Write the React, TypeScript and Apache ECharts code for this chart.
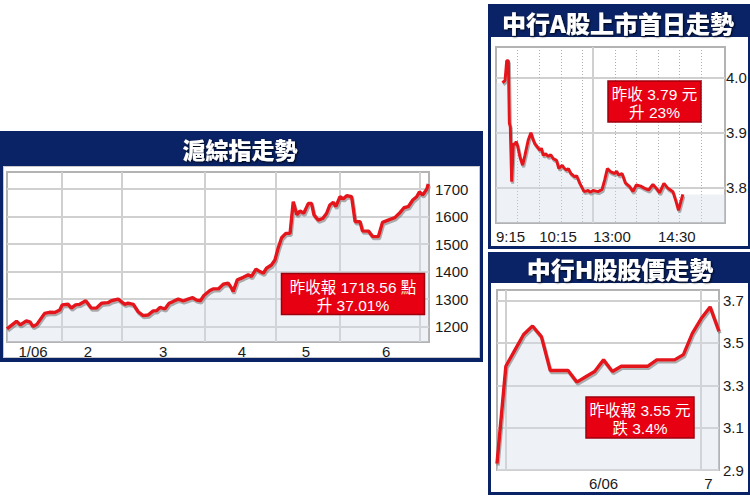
import React, { useEffect, useRef } from "react";
import * as echarts from "echarts";

// ---------- 滬綜指走勢 (Shanghai Composite, Jan–Jul 2006, trading-day index) ----------
const shPoints: [number, number][] = [
  [0, 1192], [2.7, 1219], [3.8, 1206], [5.5, 1221], [6.6, 1216], [7.4, 1200], [8.5, 1208],
  [10.7, 1248], [12.1, 1252], [13.6, 1251], [15.0, 1260], [15.7, 1279], [17.4, 1281],
  [18.3, 1267], [19.5, 1279], [20.7, 1281], [22.4, 1294], [24.0, 1267], [25.4, 1267],
  [26.9, 1285], [28.7, 1287], [29.7, 1294], [31.6, 1300], [32.5, 1291], [33.5, 1281],
  [34.4, 1285], [35.9, 1281], [37.3, 1254], [38.7, 1240], [40.1, 1242], [41.6, 1257],
  [42.5, 1257], [43.5, 1270], [44.9, 1264], [46.1, 1285], [47.2, 1291], [48.7, 1300],
  [50.1, 1293], [51.5, 1300], [52.8, 1305], [53.9, 1296], [55.0, 1294], [56.0, 1313],
  [57.7, 1331], [58.6, 1337], [60.1, 1337], [61.5, 1354], [62.9, 1358], [63.9, 1339],
  [64.3, 1327], [65.5, 1370], [67.2, 1379], [68.6, 1388], [69.5, 1382], [70.8, 1409],
  [71.9, 1400], [72.9, 1394], [73.8, 1412], [75.2, 1424], [76.2, 1442], [77.1, 1485],
  [78.1, 1523], [79.3, 1539], [80.5, 1539], [81.4, 1654], [82.4, 1606], [83.3, 1620],
  [84.4, 1612], [85.7, 1648], [86.6, 1648], [87.3, 1606], [88.5, 1587], [89.8, 1593],
  [90.9, 1612], [91.8, 1642], [92.8, 1652], [93.5, 1636], [94.7, 1672], [95.6, 1664],
  [96.6, 1676], [98.0, 1672], [99.0, 1581], [100.4, 1581], [101.1, 1547], [102.8, 1547],
  [104.0, 1527], [105.6, 1527], [106.8, 1579], [108.4, 1587], [110.3, 1596], [111.8, 1615],
  [112.9, 1632], [114.1, 1636], [115.4, 1660], [116.5, 1672], [117.3, 1690], [118.2, 1678],
  [119.4, 1700], [119.8, 1718.56],
];
const shMonthStarts = [15.5, 32.5, 56.3, 76.5, 94.7, 117.5];
const shMonthLabels = ["1/06", "2", "3", "4", "5", "6"];
const shMonthCenters = [7.4, 23, 44.4, 66.8, 85, 107.8];
const shTicks = [1200, 1300, 1400, 1500, 1600, 1700];
const shYMin = 1144;
const shYMax = 1762;
const shDayMax = 120;

// ---------- 中行A股上市首日走勢 (minutes since 9:15, lunch removed) ----------
const aPoints: [number, number][] = [
  [8.9, 3.991], [12.6, 3.995], [14.9, 4.031], [17.2, 4.031], [18.6, 3.917], [19.9, 3.911],
  [21.8, 3.811], [24.1, 3.881], [26.4, 3.878], [28.0, 3.884], [30.1, 3.876], [33.3, 3.856],
  [37.0, 3.841], [40.2, 3.859], [44.8, 3.887], [48.5, 3.900], [51.7, 3.887], [54.0, 3.880],
  [56.4, 3.876], [61.0, 3.868], [63.0, 3.872], [65.6, 3.859], [69.0, 3.862], [72.5, 3.857],
  [76.0, 3.860], [79.4, 3.853], [84.1, 3.850], [87.3, 3.835], [91.9, 3.841], [94.5, 3.836],
  [97.9, 3.832], [100.5, 3.835], [103.9, 3.826], [109.4, 3.820], [112.0, 3.822],
  [116.4, 3.808], [122.4, 3.793], [127.9, 3.795], [131.0, 3.792], [134.8, 3.795],
  [141.7, 3.793], [147.3, 3.797], [150.9, 3.814], [154.7, 3.835], [159.3, 3.829],
  [164.8, 3.826], [167.5, 3.830], [170.3, 3.823], [175.0, 3.826], [179.6, 3.809],
  [185.6, 3.802], [190.2, 3.793], [194.9, 3.805], [200.9, 3.803], [206.4, 3.799],
  [212.0, 3.796], [217.9, 3.806], [222.6, 3.799], [227.2, 3.791], [233.2, 3.808],
  [238.8, 3.799], [245.7, 3.793], [250.3, 3.774], [253.5, 3.759], [257.2, 3.777],
  [259.5, 3.788],
];
const aDottedTimes = [30, 60, 90, 120, 165, 195, 225, 255, 285];
const aLunchBreak = [135];
const aTimeLabels = ["9:15", "10:15", "13:00", "14:30"];
const aTimePos = [0, 60, 135, 225];
const aTicks = [3.8, 3.9, 4.0];
const aYMin = 3.736;
const aYMax = 4.056;
const aXMax = 318;

// ---------- 中行H股股價走勢 (trading-day index) ----------
const hValues = [
  2.93, 3.39, 3.465, 3.54, 3.58, 3.53, 3.37, 3.37, 3.37, 3.315, 3.34, 3.365, 3.42,
  3.365, 3.39, 3.39, 3.39, 3.39, 3.42, 3.42, 3.42, 3.445, 3.545, 3.615, 3.67, 3.555,
];
const hMonthStarts = [1, 23];
const hMonthLabels = ["6/06", "7"];
const hMonthLabelPos = [12, 23.8];
const hTicks = [2.9, 3.1, 3.3, 3.5, 3.7];
const hYMin = 2.9;
const hYMax = 3.75;

const NAVY = "#0a2366";
const RED_LINE = "#e4121b";
const GRID_LINE = "#d0d0d0";
const FRAME = "#b3b3b3";
const FILL = "rgba(210,221,231,0.55)";
const NUM_FONT = "'Liberation Sans', Arial, sans-serif";
const CJK_FONT = "'Liberation Sans', 'Noto Sans CJK TC', sans-serif";

function pickLabel(labels: string[], pos: number[], v: number) {
  let best = 0;
  for (let i = 1; i < pos.length; i++) {
    if (Math.abs(pos[i] - v) < Math.abs(pos[best] - v)) best = i;
  }
  return labels[best];
}

const lineStyle = (width: number) => ({
  color: RED_LINE,
  width,
  shadowColor: "rgba(110,110,110,0.55)",
  shadowOffsetX: 1,
  shadowOffsetY: 2,
  shadowBlur: 1,
});

function titleText(text: string, x: number, y: number, size: number) {
  return {
    type: "text",
    x,
    y,
    z: 100,
    silent: true,
    style: {
      text,
      fill: "#ffffff",
      font: "900 " + size + "px 'Noto Sans CJK TC', sans-serif",
      align: "center",
      verticalAlign: "middle",
      textAlign: "center",
      textVerticalAlign: "middle",
      textShadowColor: "rgba(0,0,0,0.9)",
      textShadowBlur: 2,
      textShadowOffsetX: 1,
      textShadowOffsetY: 1,
    },
  };
}

function noteBox(x: number, y: number, w: number, h: number, l1: string, l2: string) {
  const txt = (t: string, ty: number) => ({
    type: "text",
    x: x + w / 2,
    y: ty,
    z: 101,
    style: {
      text: t,
      fill: "#ffffff",
      font: "15.5px " + CJK_FONT,
      align: "center",
      verticalAlign: "middle",
      textAlign: "center",
      textVerticalAlign: "middle",
    },
  });
  return [
    {
      type: "rect",
      z: 100,
      shape: { x, y, width: w, height: h },
      style: { fill: "#e60012", stroke: "#9e000e", lineWidth: 1.5 },
    },
    txt(l1, y + 13.5),
    txt(l2, y + 31.5),
  ];
}

export default function App() {
  const ref = useRef<HTMLDivElement>(null);

  useEffect(() => {
    if (!ref.current) return;
    const chart = echarts.init(ref.current, undefined, { renderer: "svg" });

    const aFirst = aPoints[0][1];
    const aLast = aPoints[aPoints.length - 1][1];
    const aArea: [number, number][] = [[0, aFirst], ...aPoints, [aXMax, aLast]];

    const axisLabelBase = { color: "#1a1a1a", fontSize: 15, fontFamily: NUM_FONT };

    const option: any = {
      animation: false,
      grid: [
        { left: 7, top: 172, width: 422, height: 170, show: true, backgroundColor: "#fff", borderColor: FRAME, borderWidth: 2 },
        { left: 496, top: 47, width: 229, height: 176, show: true, backgroundColor: "#fff", borderColor: FRAME, borderWidth: 2 },
        { left: 497, top: 290, width: 222, height: 180, show: true, backgroundColor: "#fff", borderColor: FRAME, borderWidth: 2 },
      ],
      xAxis: [
        {
          gridIndex: 0, type: "value", position: "bottom", min: 0, max: shDayMax,
          axisLine: { show: false },
          axisTick: { show: false, customValues: shMonthStarts },
          splitLine: { show: true, lineStyle: { color: GRID_LINE, width: 2 } },
          axisLabel: {
            ...axisLabelBase, margin: 2, customValues: shMonthCenters,
            formatter: (v: number) => pickLabel(shMonthLabels, shMonthCenters, v),
          },
        },
        {
          gridIndex: 1, type: "value", position: "bottom", min: 0, max: aXMax,
          axisLine: { show: false },
          axisTick: { show: false, customValues: aDottedTimes },
          splitLine: { show: true, lineStyle: { color: "#b0b0b0", width: 1, type: [1, 2] } },
          axisLabel: { show: false },
        },
        {
          gridIndex: 1, type: "value", position: "bottom", offset: 0, min: 0, max: aXMax,
          axisLine: { show: false },
          axisTick: { show: false, customValues: aLunchBreak },
          splitLine: { show: true, lineStyle: { color: GRID_LINE, width: 2 } },
          axisLabel: {
            ...axisLabelBase, margin: 6, align: "left", customValues: aTimePos,
            formatter: (v: number) => pickLabel(aTimeLabels, aTimePos, v),
          },
        },
        {
          gridIndex: 2, type: "value", position: "bottom", min: 0, max: hValues.length - 1,
          axisLine: { show: false },
          axisTick: { show: false, customValues: hMonthStarts },
          splitLine: { show: true, lineStyle: { color: GRID_LINE, width: 2 } },
          axisLabel: {
            ...axisLabelBase, margin: 6, customValues: hMonthLabelPos,
            formatter: (v: number) => pickLabel(hMonthLabels, hMonthLabelPos, v),
          },
        },
      ],
      yAxis: [
        {
          gridIndex: 0, type: "value", position: "right", min: shYMin, max: shYMax,
          axisLine: { show: false },
          axisTick: { show: false, customValues: shTicks },
          splitLine: { show: true, lineStyle: { color: GRID_LINE, width: 2 } },
          axisLabel: { ...axisLabelBase, margin: 6, customValues: shTicks, formatter: (v: number) => String(Math.round(v)) },
        },
        {
          gridIndex: 1, type: "value", position: "right", min: aYMin, max: aYMax,
          axisLine: { show: false },
          axisTick: { show: false, customValues: aTicks },
          splitLine: { show: true, lineStyle: { color: GRID_LINE, width: 2 } },
          axisLabel: { ...axisLabelBase, margin: 1, customValues: aTicks, formatter: (v: number) => v.toFixed(1) },
        },
        {
          gridIndex: 2, type: "value", position: "right", min: hYMin, max: hYMax,
          axisLine: { show: false },
          axisTick: { show: false, customValues: hTicks },
          splitLine: { show: true, lineStyle: { color: GRID_LINE, width: 2 } },
          axisLabel: { ...axisLabelBase, margin: 4, customValues: hTicks, formatter: (v: number) => v.toFixed(1) },
        },
      ],
      series: [
        {
          type: "line", xAxisIndex: 0, yAxisIndex: 0, data: shPoints,
          symbol: "none", showSymbol: false, z: 3,
          lineStyle: lineStyle(3.4),
          areaStyle: { color: FILL, origin: "start" },
        },
        {
          type: "line", xAxisIndex: 1, yAxisIndex: 1, data: aArea,
          symbol: "none", showSymbol: false, z: 2, silent: true,
          lineStyle: { width: 0, opacity: 0 },
          areaStyle: { color: FILL, origin: "start" },
        },
        {
          type: "line", xAxisIndex: 1, yAxisIndex: 1, data: aPoints,
          symbol: "none", showSymbol: false, z: 3,
          lineStyle: lineStyle(3),
        },
        {
          type: "line", xAxisIndex: 3, yAxisIndex: 2, data: hValues.map((v, i) => [i, v]),
          symbol: "none", showSymbol: false, z: 3,
          lineStyle: lineStyle(3.4),
          areaStyle: { color: FILL, origin: "start" },
        },
      ],
      graphic: [
        titleText("滬綜指走勢", 240, 149, 23),
        titleText("中行A股上市首日走勢", 618, 22, 24),
        titleText("中行H股股價走勢", 620, 268, 24),
        ...noteBox(281.5, 273.5, 143, 41, "昨收報 1718.56 點", "升 37.01%"),
        ...noteBox(608, 81, 93, 41, "昨收 3.79 元", "升 23%"),
        ...noteBox(586, 397, 108, 41, "昨收報 3.55 元", "跌 3.4%"),
      ],
    };

    chart.setOption(option);
    return () => chart.dispose();
  }, []);

  const box = (left: number, top: number, width: number, height: number, extra: any = {}) => (
    <div style={{ position: "absolute", left, top, width, height, boxSizing: "border-box", ...extra }} />
  );

  return (
    <div style={{ position: "fixed", left: 0, top: 0, width: 750, height: 496, background: "#fff", overflow: "hidden" }}>
      {box(0, 131, 483, 231, { background: NAVY })}
      {box(3, 166, 477, 192, { background: "#fff", border: "1px solid #c9c9c9" })}
      {box(488, 4, 262, 245, { background: NAVY })}
      {box(491, 37, 257, 209, { background: "#fff" })}
      {box(488, 252, 262, 243, { background: NAVY })}
      {box(491, 283, 257, 209, { background: "#fff" })}
      <div ref={ref} style={{ position: "absolute", left: 0, top: 0, width: 750, height: 496 }} />
    </div>
  );
}
